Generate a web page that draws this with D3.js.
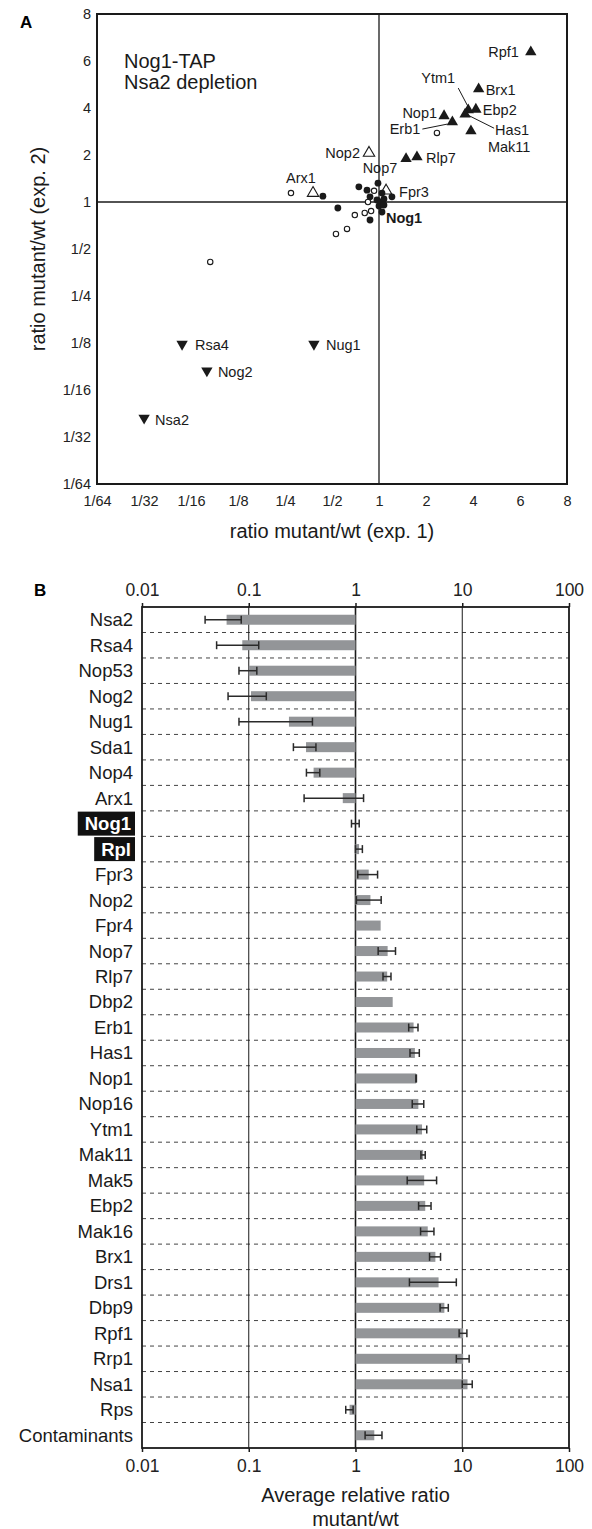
<!DOCTYPE html>
<html>
<head>
<meta charset="utf-8">
<script src="https://cdn.jsdelivr.net/npm/d3@7"></script>
<style>
  body { margin: 0; background: #fff; }
  svg { display: block; font-family: "Liberation Sans", Arial, sans-serif; }
  .axis path.domain { display: none; }
  .axis text { fill: #222; }
</style>
</head>
<body>
<svg id="fig" width="592" height="1529"></svg>
<script>
// ---- Panel A: scatter, exp. 1 vs exp. 2 ----
const knots = [1 / 64, 1 / 32, 1 / 16, 1 / 8, 1 / 4, 1 / 2, 1, 2, 4, 6, 8];
const knotLabels = ["1/64", "1/32", "1/16", "1/8", "1/4", "1/2", "1", "2", "4", "6", "8"];

// kind: up = filled triangle, upOpen = open triangle, down = filled down triangle,
// dot = filled circle, ring = open circle
const ptName = ["Rpf1", "Brx1", "Ytm1", "Ebp2", "Has1", "Mak11", "Nop1", "Erb1", "", "Rlp7",
  "Nop2", "Arx1", "Fpr3",
  "Rsa4", "Nug1", "Nog2", "Nsa2",
  "", "", "", "", "", "", "", "", "", "",
  "", "", "Nop7", "", "", "", "", "Nog1", "", "", "", "", "", "", ""];
const ptExp1 = [6.41, 4.20, 3.73, 4.10, 3.56, 3.88, 2.61, 2.95, 1.49, 1.75,
  0.863, 0.378, 1.11,
  0.0548, 0.383, 0.079, 0.0313,
  2.35, 0.273, 0.93, 0.85, 0.70, 0.81, 0.89, 0.53, 0.624, 0.083,
  0.437, 0.743, 0.985, 0.838, 1.045, 1.21, 0.876, 0.97, 1.03, 1.076, 1.0, 1.076, 0.545, 0.876, 1.045, 0.93];
const ptExp2 = [6.34, 4.71, 3.88, 3.92, 3.65, 2.85, 3.56, 3.25, 1.89, 1.94,
  2.06, 1.14, 1.18,
  0.123, 0.123, 0.083, 0.0414,
  2.77, 1.14, 1.18, 1.0, 0.825, 0.85, 0.875, 0.624, 0.672, 0.413,
  1.09, 1.25, 1.32, 1.19, 1.14, 1.08, 1.08, 1.03, 1.0, 1.045, 0.943, 0.957, 0.915, 0.767, 0.863, 0.432];
const ptKind = ["up", "up", "up", "up", "up", "up", "up", "up", "up", "up",
  "upOpen", "upOpen", "upOpen",
  "down", "down", "down", "down",
  "ring", "ring", "ring", "ring", "ring", "ring", "ring", "ring", "ring", "ring",
  "dot", "dot", "dot", "dot", "dot", "dot", "dot", "dot", "dot", "dot", "dot", "dot", "dot", "dot", "dot", "dot"];

// label placement relative to the marker
const labelPlace = {
  Rpf1: { dx: -12, dy: 0, anchor: "end" },
  Brx1: { dx: 7, dy: 1 },
  Ytm1: { dx: -30, dy: -32, anchor: "middle", leader: [[-10, -22], [0, -3]] },
  Ebp2: { dx: 7, dy: 1 },
  Has1: { dx: 30, dy: 16, leader: [[3, 1], [29, 14]] },
  Mak11: { dx: 17, dy: 16 },
  Nop1: { dx: -7, dy: -3, anchor: "end" },
  Erb1: { dx: -32, dy: 7, anchor: "end", leader: [[-30, 7], [-5, 2]] },
  Rlp7: { dx: 9, dy: 1 },
  Nop2: { dx: -9, dy: 0, anchor: "end" },
  Nop7: { dx: 2, dy: -15, anchor: "middle" },
  Arx1: { dx: -12, dy: -15, anchor: "middle" },
  Fpr3: { dx: 13, dy: 1 },
  Nog1: { dx: 9, dy: 18, bold: true },
  Rsa4: { dx: 13, dy: 1 },
  Nug1: { dx: 12, dy: 1 },
  Nog2: { dx: 11, dy: 1 },
  Nsa2: { dx: 11, dy: 2 }
};

// ---- Panel B: average relative ratio ----
const barNames = ["Nsa2", "Rsa4", "Nop53", "Nog2", "Nug1", "Sda1", "Nop4", "Arx1", "Nog1", "Rpl",
  "Fpr3", "Nop2", "Fpr4", "Nop7", "Rlp7", "Dbp2", "Erb1", "Has1", "Nop1", "Nop16",
  "Ytm1", "Mak11", "Mak5", "Ebp2", "Mak16", "Brx1", "Drs1", "Dbp9", "Rpf1", "Rrp1",
  "Nsa1", "Rps", "Contaminants"];
const barMean = [0.062, 0.087, 0.100, 0.105, 0.238, 0.344, 0.405, 0.76, 1.0, 1.08,
  1.33, 1.38, 1.72, 2.0, 1.98, 2.23, 3.5, 3.6, 3.70, 3.88,
  4.2, 4.3, 4.4, 4.5, 4.75, 5.6, 6.0, 6.8, 10.2, 10.2,
  11.2, 0.88, 1.5];
const barErr = [0.023, 0.037, 0.019, 0.041, 0.157, 0.082, 0.058, 0.43, 0.083, 0.08,
  0.28, 0.36, 0, 0.37, 0.17, 0, 0.35, 0.36, 0.02, 0.48,
  0.45, 0.2, 1.35, 0.6, 0.68, 0.66, 2.8, 0.6, 0.85, 1.4,
  1.2, 0.07, 0.27];
const highlighted = ["Nog1", "Rpl"];
const barTicks = [0.01, 0.1, 1, 10, 100];

const svg = d3.select("#fig");
const ink = "#1a1a1a";

// ================= Panel A =================
const A = { left: 97, right: 567, top: 14, bottom: 484 };
const step = (A.right - A.left) / (knots.length - 1);
const lk = knots.map(Math.log2);
const xs = d3.scaleLinear(lk, knots.map((_, i) => A.left + i * step));
const ys = d3.scaleLinear(lk, knots.map((_, i) => A.bottom - i * step));
const px = (v) => xs(Math.log2(v));
const py = (v) => ys(Math.log2(v));

const gA = svg.append("g");
gA.append("text").attr("x", 20).attr("y", 28).attr("font-size", 17).attr("font-weight", "bold").text("A");

gA.append("g").attr("class", "axis").attr("transform", `translate(0,${A.bottom})`)
  .call(d3.axisBottom(xs).tickValues(lk).tickSize(0).tickPadding(12).tickFormat((d, i) => knotLabels[i]))
  .call((g) => g.selectAll("text").attr("font-size", 14.5).attr("font-family", null));
gA.append("g").attr("class", "axis").attr("transform", `translate(${A.left},0)`)
  .call(d3.axisLeft(ys).tickValues(lk).tickSize(0).tickPadding(6).tickFormat((d, i) => knotLabels[i]))
  .call((g) => g.selectAll("text").attr("font-size", 14.5).attr("font-family", null));

// reference lines at ratio 1
gA.append("line").attr("x1", px(1)).attr("x2", px(1)).attr("y1", A.top).attr("y2", A.bottom)
  .attr("stroke", ink).attr("stroke-width", 1.3);
gA.append("line").attr("x1", A.left).attr("x2", A.right).attr("y1", py(1)).attr("y2", py(1))
  .attr("stroke", ink).attr("stroke-width", 1.3);
gA.append("rect").attr("x", A.left).attr("y", A.top).attr("width", A.right - A.left).attr("height", A.bottom - A.top)
  .attr("fill", "none").attr("stroke", ink).attr("stroke-width", 2);

gA.append("text").attr("x", 124).attr("y", 68).attr("font-size", 20).attr("fill", ink).text("Nog1-TAP");
gA.append("text").attr("x", 124).attr("y", 89).attr("font-size", 20).attr("fill", ink).text("Nsa2 depletion");

gA.append("text").attr("x", (A.left + A.right) / 2).attr("y", 538).attr("text-anchor", "middle")
  .attr("font-size", 20).attr("fill", ink).text("ratio mutant/wt (exp. 1)");
gA.append("text").attr("transform", `translate(45,${(A.top + A.bottom) / 2}) rotate(-90)`)
  .attr("text-anchor", "middle").attr("font-size", 20).attr("fill", ink).text("ratio mutant/wt (exp. 2)");

const pts = ptName.map((n, i) => ({ n, x: ptExp1[i], y: ptExp2[i], k: ptKind[i] }));
const tri = d3.symbol(d3.symbolTriangle, 56)();
const marks = gA.append("g");
for (const p of pts) {
  const cx = px(p.x), cy = py(p.y);
  if (p.k === "dot") {
    marks.append("circle").attr("cx", cx).attr("cy", cy).attr("r", 3.4).attr("fill", ink);
  } else if (p.k === "ring") {
    marks.append("circle").attr("cx", cx).attr("cy", cy).attr("r", 2.7)
      .attr("fill", "#fff").attr("stroke", ink).attr("stroke-width", 1.1);
  } else {
    const open = p.k === "upOpen";
    marks.append("path").attr("d", tri)
      .attr("transform", `translate(${cx},${cy})${p.k === "down" ? " rotate(180)" : ""}`)
      .attr("fill", open ? "#fff" : ink).attr("stroke", open ? ink : "none").attr("stroke-width", 1.1);
  }
}
for (const p of pts) {
  const lp = labelPlace[p.n];
  if (!p.n || !lp) continue;
  const cx = px(p.x), cy = py(p.y);
  if (lp.leader) {
    gA.append("line")
      .attr("x1", cx + lp.leader[0][0]).attr("y1", cy + lp.leader[0][1])
      .attr("x2", cx + lp.leader[1][0]).attr("y2", cy + lp.leader[1][1])
      .attr("stroke", ink).attr("stroke-width", 1);
  }
  gA.append("text").attr("x", cx + lp.dx).attr("y", cy + lp.dy).attr("dy", "0.35em")
    .attr("text-anchor", lp.anchor || "start").attr("font-size", 14.5)
    .attr("font-weight", lp.bold ? "bold" : null).attr("fill", ink).text(p.n);
}

// ================= Panel B =================
const B = { left: 142, right: 569, top: 607, bottom: 1448 };
const xb = d3.scaleLog([0.01, 100], [B.left, B.right]);
const yb = d3.scaleBand(barNames, [B.top, B.bottom]);
const gB = svg.append("g");
gB.append("text").attr("x", 34).attr("y", 596).attr("font-size", 17).attr("font-weight", "bold").text("B");

// dashed row separators
gB.append("g").selectAll("line").data(barNames.slice(1)).join("line")
  .attr("x1", B.left).attr("x2", B.right)
  .attr("y1", (d) => yb(d)).attr("y2", (d) => yb(d))
  .attr("stroke", "#444").attr("stroke-width", 1).attr("stroke-dasharray", "4,4");

// vertical gridlines at the inner decades
gB.append("g").selectAll("line").data([0.1, 1, 10]).join("line")
  .attr("x1", (d) => xb(d)).attr("x2", (d) => xb(d)).attr("y1", B.top).attr("y2", B.bottom)
  .attr("stroke", ink).attr("stroke-width", (d) => (d === 1 ? 1.6 : 1));

const bh = 10;
const rows = barNames.map((n, i) => ({ n, v: barMean[i], e: barErr[i] }));
gB.append("g").selectAll("rect").data(rows).join("rect")
  .attr("x", (d) => Math.min(xb(1), xb(d.v)))
  .attr("width", (d) => Math.abs(xb(d.v) - xb(1)))
  .attr("y", (d) => yb(d.n) + yb.bandwidth() / 2 - bh / 2)
  .attr("height", bh)
  .attr("fill", "#939598");

const eg = gB.append("g").attr("stroke", "#2a2a2a").attr("stroke-width", 1.5);
for (const r of rows.filter((d) => d.e > 0)) {
  const cy = yb(r.n) + yb.bandwidth() / 2;
  const x0 = xb(r.v - r.e), x1 = xb(r.v + r.e);
  eg.append("line").attr("x1", x0).attr("x2", x1).attr("y1", cy).attr("y2", cy);
  for (const xx of [x0, x1]) eg.append("line").attr("x1", xx).attr("x2", xx).attr("y1", cy - 4).attr("y2", cy + 4);
}

gB.append("rect").attr("x", B.left).attr("y", B.top).attr("width", B.right - B.left).attr("height", B.bottom - B.top)
  .attr("fill", "none").attr("stroke", ink).attr("stroke-width", 1.8);

const fmt = (d) => String(d);
gB.append("g").attr("class", "axis").attr("transform", `translate(0,${B.top})`)
  .call(d3.axisTop(xb).tickValues(barTicks).tickFormat(fmt).tickSize(4).tickSizeOuter(0).tickPadding(7))
  .call((g) => g.selectAll("text").attr("font-size", 17.5).attr("font-family", null))
  .call((g) => g.selectAll("line").attr("stroke", ink).attr("stroke-width", 1.5));
gB.append("g").attr("class", "axis").attr("transform", `translate(0,${B.bottom})`)
  .call(d3.axisBottom(xb).tickValues(barTicks).tickFormat(fmt).tickSize(4).tickSizeOuter(0).tickPadding(8))
  .call((g) => g.selectAll("text").attr("font-size", 17.5).attr("font-family", null))
  .call((g) => g.selectAll("line").attr("stroke", ink).attr("stroke-width", 1.5));

// row labels
const lab = gB.append("g");
for (const r of rows) {
  const cy = yb(r.n) + yb.bandwidth() / 2;
  if (highlighted.includes(r.n)) {
    const t = lab.append("text").attr("x", 131).attr("y", cy).attr("dy", "0.35em").attr("text-anchor", "end")
      .attr("font-size", 18.5).attr("font-weight", "bold").attr("fill", "#fff").text(r.n);
    const w = t.node().getComputedTextLength();
    lab.insert("rect", () => t.node()).attr("x", 131 - w - 7).attr("y", cy - 12).attr("width", w + 11).attr("height", 24)
      .attr("fill", "#111");
  } else {
    lab.append("text").attr("x", 133).attr("y", cy).attr("dy", "0.35em").attr("text-anchor", "end")
      .attr("font-size", 18.5).attr("fill", ink).text(r.n);
  }
}

gB.append("text").attr("x", xb(1)).attr("y", 1502).attr("text-anchor", "middle").attr("font-size", 20)
  .attr("fill", ink).text("Average relative ratio");
gB.append("text").attr("x", xb(1)).attr("y", 1526).attr("text-anchor", "middle").attr("font-size", 20)
  .attr("fill", ink).text("mutant/wt");
</script>
</body>
</html>
